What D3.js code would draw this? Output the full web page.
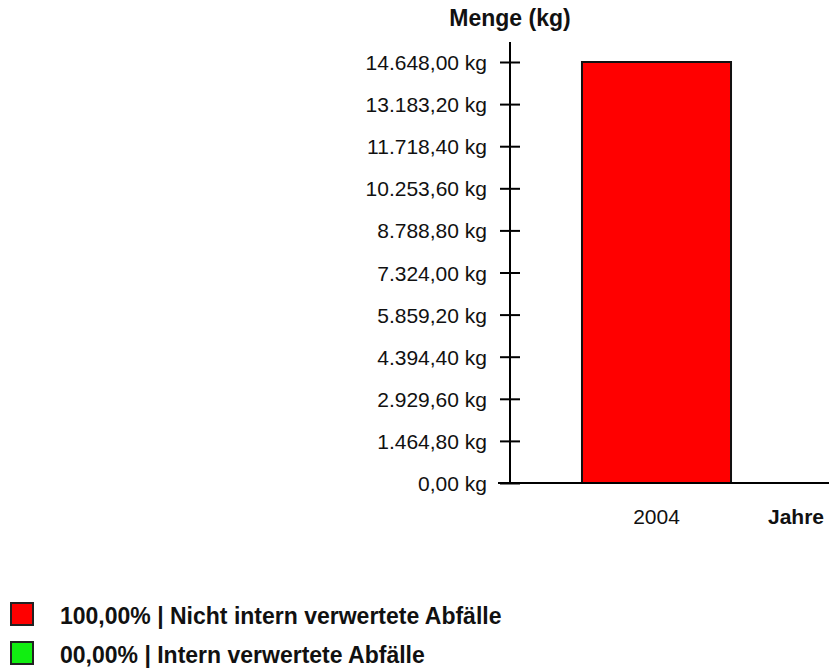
<!DOCTYPE html>
<html>
<head>
<meta charset="utf-8">
<script src="https://cdn.jsdelivr.net/npm/d3@7"></script>
<style>
  body { margin: 0; background: #fff; }
  text { font-family: "Liberation Sans", Arial, sans-serif; fill: #111; }
</style>
</head>
<body>
<div id="chart"></div>
<script>
// data
var years = ["2004"];
var amounts = [14648];
var tickValues = [0, 1464.8, 2929.6, 4394.4, 5859.2, 7324, 8788.8, 10253.6, 11718.4, 13183.2, 14648];
var legendLabels = ["100,00% | Nicht intern verwertete Abfälle", "00,00% | Intern verwertete Abfälle"];
var legendColors = ["#ff0000", "#11ee11"];

var width = 829, height = 669;

var svg = d3.select("#chart")
  .append("svg")
    .attr("width", width)
    .attr("height", height);

var axisX = 510, baseY = 483, topTick = 62, axisTop = 42;

// y scale: top tick sits 20px below the axis end
var y = d3.scaleLinear()
    .domain([0, 14648])
    .range([baseY, topTick]);

// number format like 14.648,00 kg
var de = d3.formatLocale({decimal: ",", thousands: ".", grouping: [3], currency: ["", "€"]});
var fmt = de.format(",.2f");

// y axis line
svg.append("line")
  .attr("x1", axisX).attr("x2", axisX)
  .attr("y1", axisTop).attr("y2", baseY)
  .style("stroke", "#000").style("stroke-width", 2);

// y axis ticks (crossing the line) + labels
var yAxis = svg.append("g")
  .attr("transform", "translate(" + axisX + ",0)")
  .call(d3.axisLeft(y).tickValues(tickValues).tickSize(10).tickPadding(14)
        .tickFormat(function(d) { return fmt(d) + " kg"; }));
yAxis.select(".domain").remove();
yAxis.selectAll(".tick line").attr("x1", -10).attr("x2", 10).style("stroke", "#000").style("stroke-width", 2);
yAxis.selectAll(".tick text")
  .style("font-size", "21px")
  .style("font-family", "'Liberation Sans', Arial, sans-serif")
  .attr("fill", "#111")
  .attr("x", -23)
  .attr("dy", "0.36em");

// x scale
var x = d3.scaleBand()
    .domain(years)
    .range([510, 803])
    .paddingInner(0)
    .paddingOuter(0.483);

// bar
svg.selectAll(".bar")
  .data(amounts)
  .enter()
  .append("rect")
    .attr("class", "bar")
    .attr("x", function(d, i) { return x(years[i]); })
    .attr("width", x.bandwidth())
    .attr("y", function(d) { return y(d); })
    .attr("height", function(d) { return baseY - y(d); })
    .style("fill", "#ff0000")
    .style("stroke", "#111")
    .style("stroke-width", 2);

// baseline
svg.append("line")
  .attr("x1", axisX - 12).attr("x2", width)
  .attr("y1", y(0)).attr("y2", y(0))
  .style("stroke", "#000").style("stroke-width", 2);

// x labels
svg.selectAll(".xlabel")
  .data(years)
  .enter()
  .append("text")
    .attr("x", function(d) { return x(d) + x.bandwidth() / 2; })
    .attr("y", 524)
    .attr("text-anchor", "middle")
    .style("font-size", "21px")
    .text(function(d) { return d; });

// axis titles
svg.append("text")
  .attr("x", axisX)
  .attr("y", 26)
  .attr("text-anchor", "middle")
  .style("font-size", "23px")
  .style("font-weight", "bold")
  .text("Menge (kg)");

svg.append("text")
  .attr("x", 768)
  .attr("y", 524)
  .style("font-size", "21px")
  .style("font-weight", "bold")
  .text("Jahre");

// legend
var legend = svg.selectAll(".legend")
  .data(legendLabels)
  .enter()
  .append("g")
    .attr("class", "legend")
    .attr("transform", function(d, i) { return "translate(0," + (603 + i * 39) + ")"; });

legend.append("rect")
  .attr("x", 11).attr("y", 0)
  .attr("width", 22).attr("height", 22)
  .style("fill", function(d, i) { return legendColors[i]; })
  .style("stroke", "#222")
  .style("stroke-width", 2);

legend.append("text")
  .attr("x", 60)
  .attr("y", 21)
  .style("font-size", "23px")
  .style("font-weight", "bold")
  .text(function(d) { return d; });
</script>
</body>
</html>
